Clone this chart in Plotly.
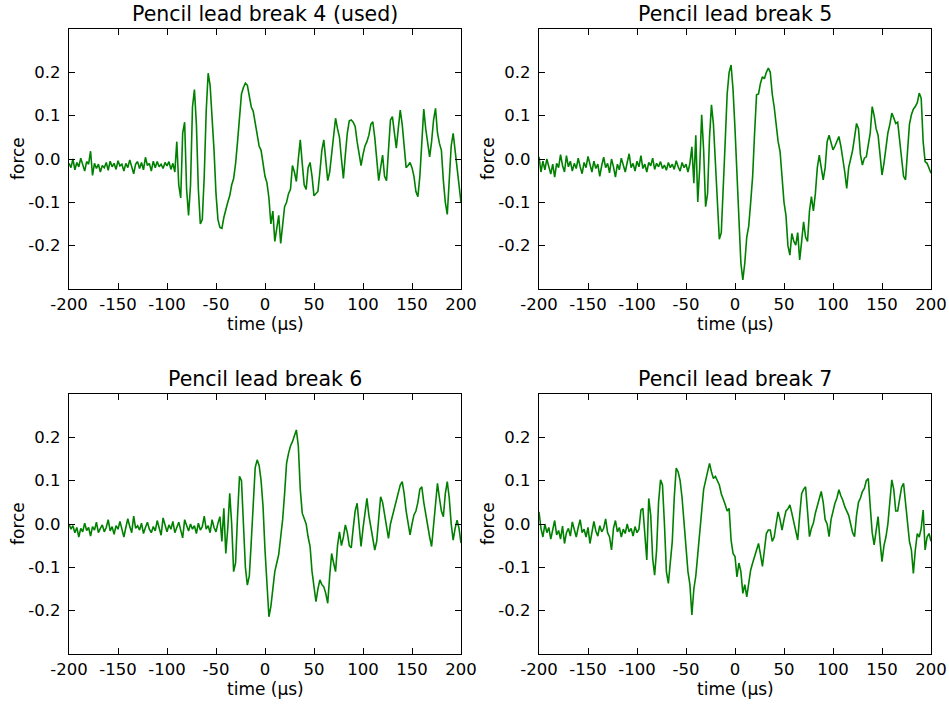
import plotly.graph_objects as go

# Sampling grid in microseconds (2 us steps)
time_us = list(range(-200, 201, 2))

# Force traces for each pencil lead break
break4_used = [
    -0.010, -0.020, 0.000, -0.025, -0.008, -0.018, 0.002, -0.015, -0.028, -0.006,
    -0.012, 0.018, -0.038, -0.010, -0.022, -0.012, -0.030, -0.015, -0.020, -0.008,
    -0.026, -0.005, -0.018, -0.010, -0.024, -0.004, -0.016, -0.012, -0.028, -0.010,
    -0.020, -0.002, -0.018, -0.034, -0.012, -0.006, -0.022, -0.008, -0.025, 0.004,
    -0.015, -0.010, -0.028, -0.005, -0.020, -0.006, -0.018, -0.012, -0.022, -0.008,
    -0.016, -0.006, -0.024, -0.010, -0.030, 0.040, -0.060, -0.090, 0.060, 0.085,
    -0.070, -0.130, -0.060, 0.120, 0.160, 0.080, -0.070, -0.150, -0.140, -0.040,
    0.110, 0.198, 0.170, 0.100, 0.020, -0.080, -0.140, -0.158, -0.160, -0.135,
    -0.115, -0.100, -0.085, -0.060, -0.045, -0.010, 0.040, 0.100, 0.150, 0.165,
    0.175, 0.170, 0.145, 0.120, 0.110, 0.085, 0.060, 0.030, 0.020, -0.010,
    -0.040, -0.055, -0.090, -0.150, -0.120, -0.190, -0.160, -0.130, -0.195, -0.150,
    -0.110, -0.100, -0.080, -0.070, -0.015, -0.030, -0.052, 0.000, 0.044, -0.010,
    -0.060, -0.070, -0.020, -0.008, -0.040, -0.085, -0.080, -0.075, -0.030, 0.020,
    0.044, 0.000, -0.050, -0.030, 0.010, 0.060, 0.094, 0.070, 0.050, 0.000,
    -0.045, 0.010, 0.060, 0.088, 0.090, 0.085, 0.075, 0.040, 0.010, -0.015,
    0.010, 0.030, 0.040, 0.055, 0.080, 0.086, 0.050, 0.000, -0.050, -0.020,
    0.009, -0.040, -0.050, 0.020, 0.090, 0.098, 0.060, 0.025, 0.070, 0.113,
    0.080, 0.020, -0.020, -0.015, -0.008, -0.020, -0.040, -0.075, -0.087, -0.040,
    0.050, 0.115, 0.070, 0.030, 0.005, 0.040, 0.090, 0.117, 0.060, 0.036,
    0.020, -0.050, -0.100, -0.128, -0.060, 0.030, 0.059, 0.020, -0.010, -0.060,
    -0.100,
]

break5 = [
    0.005, -0.030, -0.005, -0.025, 0.000, -0.020, -0.035, -0.012, -0.042, -0.010,
    -0.020, 0.010, -0.015, -0.030, 0.008, -0.018, -0.005, -0.028, -0.010, -0.022,
    0.002, -0.018, -0.034, -0.008, -0.020, 0.006, -0.015, -0.030, -0.005, -0.022,
    -0.012, -0.040, -0.015, 0.004, -0.020, -0.010, -0.032, 0.000, -0.018, -0.042,
    -0.012, -0.025, 0.002, -0.015, -0.030, -0.008, 0.012, -0.020, -0.010, -0.028,
    -0.005, -0.018, 0.008, -0.022, -0.012, -0.030, -0.008, -0.016, 0.002, -0.024,
    -0.010, -0.018, -0.006, -0.022, -0.014, -0.026, -0.008, -0.020, -0.012, -0.024,
    -0.004, -0.018, -0.028, -0.008, -0.020, -0.012, -0.030, -0.010, 0.028, -0.056,
    0.055, -0.099, -0.020, 0.102, 0.020, -0.110, -0.080, 0.050, 0.125, 0.080,
    -0.020, -0.120, -0.185, -0.170, -0.080, 0.040, 0.150, 0.200, 0.217, 0.160,
    0.070, -0.040, -0.150, -0.240, -0.279, -0.240, -0.180, -0.155, -0.100, -0.040,
    0.060, 0.148, 0.150, 0.175, 0.190, 0.185, 0.200, 0.210, 0.200, 0.150,
    0.120, 0.080, 0.040, 0.017, -0.040, -0.100, -0.130, -0.200, -0.222, -0.172,
    -0.190, -0.199, -0.170, -0.233, -0.190, -0.145, -0.180, -0.190, -0.120, -0.087,
    -0.120, -0.080, -0.020, 0.009, -0.020, -0.048, -0.020, 0.040, 0.055, 0.035,
    0.021, 0.030, 0.040, 0.052, 0.030, 0.002, -0.030, -0.068, -0.020, 0.000,
    0.020, 0.050, 0.082, 0.070, 0.010, -0.014, 0.002, 0.005, 0.030, 0.060,
    0.121, 0.100, 0.070, 0.055, 0.010, -0.037, -0.010, 0.032, 0.060, 0.080,
    0.106, 0.095, 0.082, 0.085, 0.040, 0.000, -0.040, -0.048, 0.010, 0.080,
    0.102, 0.115, 0.121, 0.130, 0.152, 0.140, 0.040, -0.006, -0.010, -0.020,
    -0.033,
]

break6 = [
    0.000, -0.012, -0.004, -0.020, -0.008, -0.030, -0.010, -0.018, 0.002, -0.015,
    -0.008, -0.028, -0.006, -0.014, 0.004, -0.020, -0.010, -0.002, -0.018, -0.008,
    0.010, -0.016, -0.006, -0.024, -0.004, -0.012, 0.006, -0.016, -0.030, -0.008,
    0.012, -0.006, -0.020, 0.018, -0.010, -0.004, -0.014, 0.002, -0.022, -0.008,
    0.004, -0.012, -0.020, -0.006, -0.016, 0.008, -0.010, -0.026, 0.014, -0.004,
    -0.018, -0.002, -0.012, 0.006, -0.020, -0.008, 0.004, -0.014, -0.032, 0.010,
    -0.006, -0.016, 0.000, -0.012, -0.004, -0.022, 0.002, -0.014, -0.006, 0.018,
    -0.012, -0.004, -0.020, 0.010, -0.008, -0.018, 0.002, 0.017, -0.040, 0.036,
    -0.068, -0.010, 0.071, 0.000, -0.110, -0.090, 0.020, 0.110, 0.100, 0.010,
    -0.100, -0.141, -0.120, -0.040, 0.060, 0.130, 0.148, 0.135, 0.100, 0.040,
    -0.060, -0.150, -0.214, -0.190, -0.145, -0.110, -0.090, -0.070, -0.030, 0.010,
    0.070, 0.140, 0.163, 0.180, 0.190, 0.205, 0.217, 0.180, 0.080, 0.025,
    0.010, 0.000, -0.030, -0.052, -0.110, -0.150, -0.179, -0.150, -0.129, -0.140,
    -0.145, -0.160, -0.183, -0.120, -0.068, -0.090, -0.110, -0.050, -0.018, -0.050,
    -0.030, -0.002, -0.020, -0.050, -0.055, -0.010, 0.030, 0.048, 0.000, -0.052,
    -0.010, 0.030, 0.059, 0.020, -0.006, -0.030, -0.060, -0.040, 0.010, 0.063,
    0.050, 0.020, -0.010, -0.033, 0.000, 0.017, 0.040, 0.055, 0.070, 0.090,
    0.098, 0.070, 0.030, 0.000, -0.025, 0.000, 0.021, 0.030, 0.050, 0.080,
    0.086, 0.050, 0.021, 0.000, -0.030, -0.052, 0.000, 0.060, 0.094, 0.060,
    0.030, 0.017, 0.070, 0.098, 0.060, 0.000, -0.037, -0.010, 0.009, -0.010,
    -0.044,
]

break7 = [
    0.028, -0.010, -0.030, 0.000, -0.020, -0.008, -0.035, -0.012, 0.008, -0.025,
    -0.015, -0.035, -0.005, -0.045, -0.020, -0.010, -0.028, 0.005, -0.015, -0.030,
    -0.008, 0.010, -0.020, -0.012, -0.030, -0.008, -0.045, -0.018, 0.006, -0.016,
    -0.028, -0.004, -0.018, -0.010, 0.012, -0.020, -0.030, -0.060, -0.010, 0.008,
    -0.018, -0.008, -0.030, -0.012, -0.022, 0.000, -0.018, -0.010, -0.028, -0.006,
    -0.020, -0.012, 0.032, 0.036, -0.020, -0.083, 0.059, 0.020, -0.080, -0.118,
    -0.060, 0.050, 0.102, 0.090, 0.000, -0.110, -0.137, -0.090, -0.040, 0.060,
    0.129, 0.120, 0.100, 0.060, 0.000, -0.050, -0.110, -0.140, -0.210, -0.150,
    -0.120, -0.070, -0.025, 0.030, 0.080, 0.100, 0.120, 0.140, 0.120, 0.105,
    0.110, 0.100, 0.090, 0.070, 0.059, 0.045, 0.030, 0.036, -0.037, -0.068,
    -0.075, -0.122, -0.090, -0.110, -0.160, -0.140, -0.168, -0.140, -0.106, -0.090,
    -0.075, -0.060, -0.045, -0.070, -0.098, -0.060, -0.022, -0.014, -0.014, -0.040,
    -0.030, 0.000, 0.028, 0.010, -0.014, 0.010, 0.030, 0.035, 0.044, 0.025,
    0.005, -0.010, -0.037, 0.020, 0.070, 0.080, 0.086, 0.030, -0.029, -0.010,
    0.002, 0.025, 0.040, 0.055, 0.075, 0.050, 0.010, 0.000, -0.029, 0.010,
    0.030, 0.048, 0.060, 0.079, 0.065, 0.055, 0.040, 0.030, 0.020, 0.000,
    -0.020, -0.029, 0.020, 0.050, 0.060, 0.075, 0.082, 0.100, 0.105, 0.040,
    -0.020, -0.048, -0.010, 0.017, -0.040, -0.087, -0.050, -0.030, 0.000, 0.060,
    0.102, 0.080, 0.030, 0.030, 0.060, 0.085, 0.094, 0.050, 0.000, -0.040,
    -0.060, -0.114, -0.060, -0.022, -0.030, -0.010, 0.032, -0.060, -0.030, -0.022,
    -0.040,
]

titles = ["Pencil lead break 4 (used)", "Pencil lead break 5",
          "Pencil lead break 6", "Pencil lead break 7"]
series = [break4_used, break5, break6, break7]

x_tick_vals = [-200, -150, -100, -50, 0, 50, 100, 150, 200]
x_tick_text = ["-200", "-150", "-100", "-50", "0", "50", "100", "150", "200"]
y_tick_vals = [-0.2, -0.1, 0.0, 0.1, 0.2]
y_tick_text = ["-0.2", "-0.1", "0.0", "0.1", "0.2"]
x_label = "time (µs)"
y_label = "force"

for s in series:
    assert len(s) == len(time_us)

FONT = "DejaVu Sans"
W, H = 949, 705

# panel domains in paper coordinates (2 x 2 grid)
x_domains = [[69 / W, 461 / W], [539 / W, 931 / W]]
y_domains = [[1 - 289 / H, 1 - 29 / H], [1 - 654 / H, 1 - 394 / H]]

fig = go.Figure()
annotations = []
layout_axes = {}

for i, (title, vals) in enumerate(zip(titles, series)):
    row, col = divmod(i, 2)
    n = "" if i == 0 else str(i + 1)
    xd, yd = x_domains[col], y_domains[row]

    fig.add_trace(go.Scatter(
        x=time_us, y=vals, mode="lines",
        line=dict(color="#008000", width=1.6),
        xaxis="x" + n, yaxis="y" + n, showlegend=False,
        hoverinfo="skip",
    ))

    common = dict(
        showline=True, linecolor="black", linewidth=1.4, mirror="ticks",
        ticks="inside", ticklen=6, tickwidth=1, tickcolor="black",
        showgrid=False, zeroline=False, automargin=False,
        tickfont=dict(family=FONT, size=16.5, color="black"),
    )
    layout_axes["xaxis" + n] = dict(
        domain=xd, anchor="y" + n, range=[-200, 200],
        tickmode="array", tickvals=x_tick_vals, ticktext=x_tick_text,
        ticklabelstandoff=0, **common,
    )
    layout_axes["yaxis" + n] = dict(
        domain=yd, anchor="x" + n, range=[-0.3, 0.3],
        tickmode="array", tickvals=y_tick_vals, ticktext=y_tick_text,
        ticklabelstandoff=4, **common,
    )

    xc = (xd[0] + xd[1]) / 2
    annotations.append(dict(
        text=title, x=xc, y=yd[1], xref="paper", yref="paper",
        xanchor="center", yanchor="middle", yshift=15, showarrow=False,
        font=dict(family=FONT, size=20.5, color="black"),
    ))
    annotations.append(dict(
        text=x_label, x=xc, y=yd[0], xref="paper", yref="paper",
        xanchor="center", yanchor="middle", yshift=-35, showarrow=False,
        font=dict(family=FONT, size=17, color="black"),
    ))
    annotations.append(dict(
        text=y_label, x=xd[0], y=(yd[0] + yd[1]) / 2, xref="paper", yref="paper",
        xanchor="center", yanchor="middle", xshift=-51, textangle=-90,
        showarrow=False, font=dict(family=FONT, size=17, color="black"),
    ))

fig.update_layout(
    width=W, height=H,
    margin=dict(l=0, r=0, t=0, b=0),
    paper_bgcolor="white", plot_bgcolor="white",
    annotations=annotations,
    **layout_axes,
)

fig.write_html("out.html")
